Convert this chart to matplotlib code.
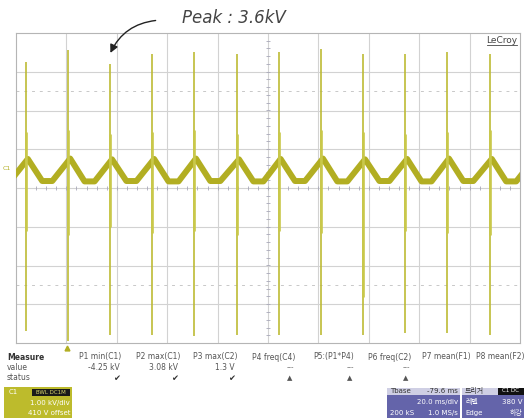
import matplotlib.pyplot as plt
from matplotlib.patches import Rectangle
import numpy as np

# --- data (time in ms, voltage in kV) ---
spike_t = [3.9, 20.7, 37.3, 54.0, 70.6, 87.7, 104.2, 121.0, 137.7, 154.4, 171.0, 188.0]
spike_top = [3.26, 3.56, 3.20, 3.47, 3.51, 3.47, 3.51, 3.60, 3.47, 3.47, 3.51, 3.47]
spike_bot = [-3.70, -3.96, -3.79, -3.79, -3.83, -3.79, -3.79, -3.79, -3.79, -3.74, -3.74, -3.79]
ring_top = [1.45, 1.50, 1.40, 1.45, 1.50, 1.40, 1.45, 1.50, 1.45, 1.40, 1.45, 1.50]
ring_bot = [-1.10, -1.20, -1.00, -1.15, -1.10, -1.20, -1.10, -1.15, -2.80, -1.10, -1.15, -1.20]

# base ripple: peak just after each spike, flat trough in between
peak_kv = [0.75, 0.76, 0.74, 0.75, 0.76, 0.74, 0.75, 0.76, 0.74, 0.75, 0.76, 0.75]
trough_kv = [0.18, 0.17, 0.18, 0.17, 0.18, 0.17, 0.18, 0.17, 0.18, 0.17, 0.18, 0.17]
start_kv = 0.17
peak_dt, fall_dt, flat_dt, rise_dt = 0.8, 6.5, 10.5, -6.3

measure_names = ["P1 min(C1)", "P2 max(C1)", "P3 max(C2)", "P4 freq(C4)",
                 "P5:(P1*P4)", "P6 freq(C2)", "P7 mean(F1)", "P8 mean(F2)"]
measure_vals = ["-4.25 kV", "3.08 kV", "1.3 V", "---", "---", "---", "", ""]
measure_stat = ["\u2714", "\u2714", "\u2714", "\u25b2", "\u25b2", "\u25b2", "", ""]

trace_col = '#b2ae22'
spike_col = '#bdbb35'
grid_col = '#d2d2d2'
txt_col = '#555555'

W, H = 524, 418
fig = plt.figure(figsize=(W / 100, H / 100), dpi=100)
fig.patch.set_facecolor('white')
ax = fig.add_axes([16 / W, 1 - 343 / H, 504 / W, 310 / H])
ax.set_xlim(0, 200)
ax.set_ylim(-4, 4)
ax.set_xticks([])
ax.set_yticks([])
for s in ax.spines.values():
    s.set_color('#b5b5b5')
    s.set_linewidth(0.8)

# graticule
for xv in np.arange(20, 200, 20):
    ax.axvline(xv, color=grid_col, lw=0.8, zorder=0)
for yv in np.arange(-3, 4, 1):
    ax.axhline(yv, color=grid_col, lw=0.8, zorder=0)
for yv in (2.5, -2.5):
    ax.axhline(yv, color='#c8c8c8', lw=0.7, ls=(0, (3, 5)), zorder=0)
mx = np.arange(0, 200.1, 4)
my = np.arange(-4, 4.01, 0.2)
ax.plot(mx, np.zeros_like(mx), ls='none', marker='|', ms=3, mew=0.6, color='#a8a8b8', zorder=1)
ax.plot(np.full_like(my, 100), my, ls='none', marker='_', ms=3, mew=0.6, color='#a8a8b8', zorder=1)

# ripple trace
wt = [spike_t[0] + rise_dt - 3.0, spike_t[0] + rise_dt]
wv = [start_kv, start_kv]
for i, t in enumerate(spike_t):
    wt += [t + peak_dt, t + fall_dt, t + flat_dt]
    wv += [peak_kv[i], trough_kv[i], trough_kv[i]]
wt.append(spike_t[-1] + 17.5)
wv.append(peak_kv[-1])
ax.plot(wt, wv, color=trace_col, lw=4.3, solid_joinstyle='round', zorder=3)

# switching spikes
ax.vlines(spike_t, spike_bot, spike_top, color=spike_col, lw=1.2, zorder=4)
ax.vlines(spike_t, ring_bot, ring_top, color='#c9c84a', lw=1.9, zorder=4)

# annotation
fig.text(182 / W, 1 - 23 / H, "Peak : 3.6kV", fontsize=12, style='italic',
         color='#444444', va='baseline', ha='left')
ax.annotate("", xy=(spike_t[2] - 0.3, 3.42), xytext=(56.5, 4.33),
            arrowprops=dict(arrowstyle='-|>', color='#222222', lw=1.0,
                            connectionstyle='arc3,rad=0.3', mutation_scale=12),
            annotation_clip=False)

# LeCroy logo
fig.text(517 / W, 1 - 43 / H, "LeCroy", fontsize=6.5, color='#444444', ha='right', va='baseline')
fig.add_artist(plt.Line2D([487 / W, 517 / W], [1 - 45 / H, 1 - 45 / H], color='#444444', lw=0.6))
fig.text(3 / W, 1 - 168 / H, "C1", fontsize=4.5, color=trace_col, ha='left', va='center')

# trigger position marker
ax.plot([20.2], [-4.12], marker='^', ms=3.5, color=trace_col, clip_on=False)


def px(x, y):
    return x / W, 1 - y / H


# measurement table
fig.text(*px(7, 357), "Measure", fontsize=5.5, weight='bold', color='#333333', va='center')
fig.text(*px(7, 367), "value", fontsize=5.5, color=txt_col, va='center')
fig.text(*px(7, 378), "status", fontsize=5.5, color=txt_col, va='center')
col_x = [100, 158, 215, 274, 334, 390, 446, 500]
for i, name in enumerate(measure_names):
    fig.text(*px(col_x[i], 357), name, fontsize=5.5, color=txt_col, ha='center', va='center')
    if measure_vals[i] == "---":
        fig.text(*px(col_x[i] + 16, 367), "---", fontsize=5, color=txt_col, ha='center', va='center')
        fig.text(*px(col_x[i] + 16, 378), measure_stat[i], fontsize=5, color='#555555', ha='center', va='center')
    elif measure_vals[i]:
        fig.text(*px(col_x[i] + 20, 367), measure_vals[i], fontsize=5.5, color=txt_col, ha='right', va='center')
        fig.text(*px(col_x[i] + 17, 378), measure_stat[i], fontsize=6, color='#333333', ha='center', va='center')

# channel box
fig.add_artist(Rectangle(px(4, 418), 68 / W, 31 / H, transform=fig.transFigure,
                         facecolor='#bdbb2c', edgecolor='none'))
fig.add_artist(Rectangle(px(32, 396), 38 / W, 7 / H, transform=fig.transFigure,
                         facecolor='#1a1a1a', edgecolor='none'))
fig.text(*px(9, 392), "C1", fontsize=5, color='white', va='center')
fig.text(*px(51, 392.5), "BWL DC1M", fontsize=4, color='#d8d66a', ha='center', va='center')
fig.text(*px(70, 403), "1.00 kV/div", fontsize=5, color='white', ha='right', va='center')
fig.text(*px(70, 413), "410 V offset", fontsize=5, color='white', ha='right', va='center')

# timebase box
kr = ['Noto Sans CJK KR', 'DejaVu Sans']
fig.add_artist(Rectangle(px(387, 418), 73 / W, 24 / H, transform=fig.transFigure,
                         facecolor='#6464aa', edgecolor='none'))
fig.add_artist(Rectangle(px(387, 395), 73 / W, 7.5 / H, transform=fig.transFigure,
                         facecolor='#cfcfe4', edgecolor='none'))
fig.text(*px(390, 391), "Tbase", fontsize=5, color='#333333', va='center')
fig.text(*px(458, 391), "-79.6 ms", fontsize=5, color='#333333', ha='right', va='center')
fig.text(*px(458, 402), "20.0 ms/div", fontsize=5, color='white', ha='right', va='center')
fig.text(*px(390, 413), "200 kS", fontsize=5, color='white', va='center')
fig.text(*px(458, 413), "1.0 MS/s", fontsize=5, color='white', ha='right', va='center')

# trigger box
fig.add_artist(Rectangle(px(462, 418), 62 / W, 24 / H, transform=fig.transFigure,
                         facecolor='#6464aa', edgecolor='none'))
fig.add_artist(Rectangle(px(462, 395), 62 / W, 7.5 / H, transform=fig.transFigure,
                         facecolor='#cfcfe4', edgecolor='none'))
fig.add_artist(Rectangle(px(498, 394.5), 26 / W, 6.5 / H, transform=fig.transFigure,
                         facecolor='#111111', edgecolor='none'))
fig.text(*px(465, 391), "트리거", fontsize=5, color='#333333', va='center', family=kr)
fig.text(*px(511, 391), "C1 DC", fontsize=4, color='white', ha='center', va='center')
fig.text(*px(465, 402), "레벨", fontsize=5, color='white', va='center', family=kr)
fig.text(*px(522, 402), "380 V", fontsize=5, color='white', ha='right', va='center')
fig.text(*px(465, 413), "Edge", fontsize=5, color='white', va='center')
fig.text(*px(522, 413), "하강", fontsize=5, color='white', ha='right', va='center', family=kr)

fig.savefig('out.png', dpi=100)
